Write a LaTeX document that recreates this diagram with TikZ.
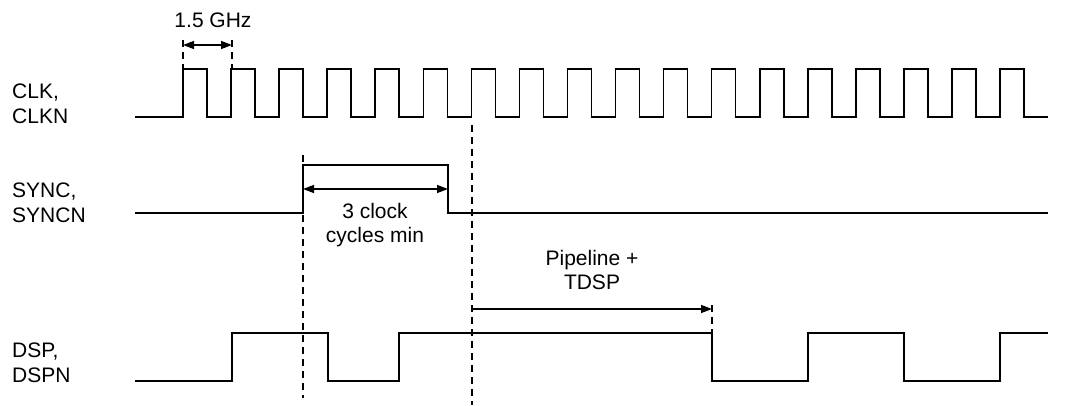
\documentclass[tikz,border=0pt]{standalone}
\usepackage{fontspec}
\setmainfont{Liberation Sans}
\usepackage{tikz}
\usetikzlibrary{arrows.meta, positioning}

\begin{document}
\begin{tikzpicture}[
  x=1pt, y=-1pt,
  wave/.style={line width=1.6pt, line join=miter},
  marker/.style={line width=1.4pt, dash pattern=on 7pt off 5pt},
  dim/.style={line width=1.4pt, {Triangle[length=11pt,width=8pt]}-{Triangle[length=11pt,width=8pt]}},
  dimr/.style={line width=1.4pt, -{Triangle[length=11pt,width=8pt]}},
  lbl/.style={inner sep=0pt, align=left, anchor=north west, font=\fontsize{21}{24.5}\selectfont},
  note/.style={inner sep=0pt, align=center, anchor=north, font=\fontsize{21}{24.5}\selectfont}
]
\useasboundingbox (0,0) rectangle (1072,405);
\pgfmathsetmacro{\per}{48.06}

% signal names
\node[lbl] (clkname) at (12,84) {CLK,\\CLKN};
\node[lbl] (syncname) at (12,183) {SYNC,\\SYNCN};
\node[lbl] (dspname) at (12,343) {DSP,\\DSPN};

% clock
\draw[wave] (135,117) foreach \k in {0,...,17} {
  -- ({183+\per*\k},117) |- ({183+\per*\k+\per/2},69) -- ({183+\per*\k+\per/2},117)
} -- (1048,117);

% sync
\draw[wave] (135,213) -- (303,213) -- (303,165) -- (448,165) -- (448,213) -- (1048,213);

% dsp
\draw[wave] (135,381) -- (232,381) -- (232,333) -- (328,333) -- (328,381)
  -- (399,381) -- (399,333) -- (712,333) -- (712,381) -- (808,381)
  -- (808,333) -- (904,333) -- (904,381) -- (1000,381) -- (1000,333) -- (1048,333);

% markers
\coordinate (p0) at (183,45);
\coordinate (p1) at (232,45);
\coordinate (s0) at (303,189);
\coordinate (s1) at (448,189);
\coordinate (t0) at (472,309);
\coordinate (t1) at (712,309);

\draw[marker] (183,40) -- (183,68);
\draw[marker] (232,40) -- (232,68);
\draw[marker] (303,155) -- (303,398);
\draw[marker] (472,125) -- (472,405);
\draw[marker] (712,305) -- (712,333);

\draw[dim] (p0) -- (p1);
\draw[dim] (s0) -- (s1);
\draw[dimr] (t0) -- (t1);

\node[note] (freq) at (213,13) {1.5 GHz};
\node[note] (cycles) at (375,203) {3 clock\\cycles min};
\node[note] (pipe) at (592,250) {Pipeline +\\TDSP};
\end{tikzpicture}
\end{document}
